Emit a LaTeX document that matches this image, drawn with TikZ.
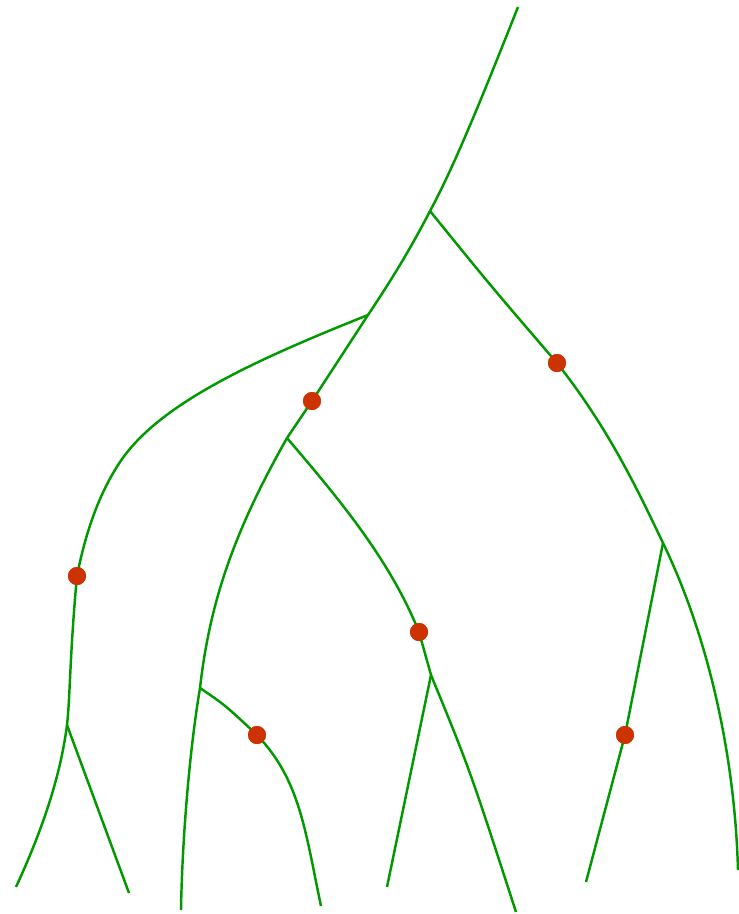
\documentclass[tikz,border=0pt]{standalone}
\usepackage{xcolor}
\usepackage{tikz}
\usetikzlibrary{positioning}

\definecolor{branchgreen}{HTML}{009900}
\definecolor{dotred}{HTML}{CC3300}

\begin{document}
\begin{tikzpicture}[
    x=0.02cm, y=-0.02cm,
    branch/.style={draw=branchgreen, line width=1.4pt},
    event/.style={circle, fill=dotred, inner sep=0pt, minimum size=0.36cm}
]
    \useasboundingbox (0,0) rectangle (738,914);

    % branch points and leaves
    \coordinate (top) at (518,7);
    \coordinate (A) at (430,211);
    \coordinate (B) at (368,315);
    \coordinate (C) at (287,438);
    \coordinate (D) at (67,725);
    \coordinate (E) at (200,688);
    \coordinate (F) at (431,675);
    \coordinate (G) at (663,543);
    \coordinate (leafa) at (16,887);
    \coordinate (leafb) at (129,893);
    \coordinate (leafc) at (181,910);
    \coordinate (leafd) at (321,906);
    \coordinate (leafe) at (387,887);
    \coordinate (leaff) at (516,912);
    \coordinate (leafg) at (586,882);
    \coordinate (leafh) at (738,870);

    % events on the branches
    \node[event] (ev1) at (312,401) {};
    \node[event] (ev2) at (77,576) {};
    \node[event] (ev3) at (257,735) {};
    \node[event] (ev4) at (419,632) {};
    \node[event] (ev5) at (557,363) {};
    \node[event] (ev6) at (625,735) {};

    \draw[branch] (top) .. controls (485,90) and (455,165) .. (A);
    \draw[branch] (A) .. controls (410,250) and (390,282) .. (B);
    \draw[branch] (B) -- (ev1.center) -- (C);
    \draw[branch] (B) .. controls (250,362) and (158,405) .. (120,462)
        .. controls (100,492) and (86,530) .. (ev2.center);
    \draw[branch] (ev2.center) .. controls (70,650) and (70,700) .. (D);
    \draw[branch] (D) .. controls (60,780) and (40,835) .. (leafa);
    \draw[branch] (D) -- (leafb);
    \draw[branch] (C) .. controls (235,530) and (210,600) .. (E);
    \draw[branch] (E) .. controls (188,760) and (182,850) .. (leafc);
    \draw[branch] (E) .. controls (225,705) .. (ev3.center);
    \draw[branch] (ev3.center) .. controls (300,780) and (305,830) .. (leafd);
    \draw[branch] (C) .. controls (340,500) and (390,560) .. (ev4.center);
    \draw[branch] (ev4.center) -- (F);
    \draw[branch] (F) -- (leafe);
    \draw[branch] (F) .. controls (470,770) .. (leaff);
    \draw[branch] (A) .. controls (490,285) .. (ev5.center);
    \draw[branch] (ev5.center) .. controls (610,430) and (640,495) .. (G);
    \draw[branch] (G) -- (ev6.center) -- (leafg);
    \draw[branch] (G) .. controls (710,640) and (735,760) .. (leafh);

    % redraw dots on top
    \foreach \ev in {ev1,ev2,ev3,ev4,ev5,ev6}
        \fill[dotred] (\ev.center) circle (0.18cm);
\end{tikzpicture}
\end{document}
